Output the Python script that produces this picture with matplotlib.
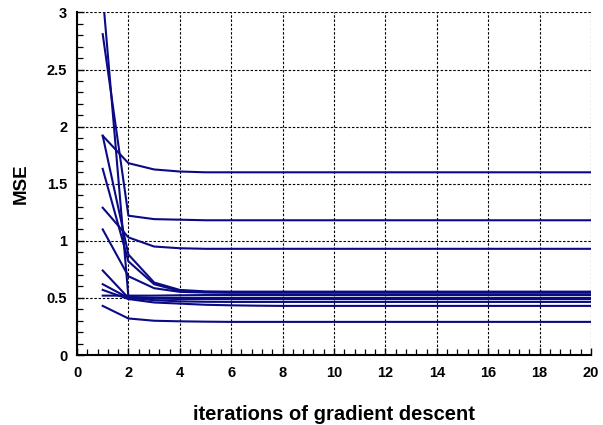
import matplotlib
matplotlib.use("Agg")
import matplotlib.pyplot as plt
from matplotlib.ticker import MultipleLocator, FuncFormatter

plt.rcParams['font.family'] = ['Liberation Sans', 'DejaVu Sans']

iterations = list(range(1, 21))

mse_runs = [
    [3.16, 0.51, 0.50, 0.50, 0.50, 0.50, 0.50, 0.50, 0.50, 0.50, 0.50, 0.50, 0.50, 0.50, 0.50, 0.50, 0.50, 0.50, 0.50, 0.50],
    [2.81, 1.22, 1.19, 1.185, 1.18, 1.18, 1.18, 1.18, 1.18, 1.18, 1.18, 1.18, 1.18, 1.18, 1.18, 1.18, 1.18, 1.18, 1.18, 1.18],
    [1.92, 1.68, 1.625, 1.607, 1.60, 1.60, 1.60, 1.60, 1.60, 1.60, 1.60, 1.60, 1.60, 1.60, 1.60, 1.60, 1.60, 1.60, 1.60, 1.60],
    [1.92, 0.88, 0.635, 0.57, 0.557, 0.555, 0.555, 0.555, 0.555, 0.555, 0.555, 0.555, 0.555, 0.555, 0.555, 0.555, 0.555, 0.555, 0.555, 0.555],
    [1.63, 0.82, 0.62, 0.56, 0.552, 0.55, 0.55, 0.55, 0.55, 0.55, 0.55, 0.55, 0.55, 0.55, 0.55, 0.55, 0.55, 0.55, 0.55, 0.55],
    [1.29, 1.03, 0.95, 0.935, 0.93, 0.93, 0.93, 0.93, 0.93, 0.93, 0.93, 0.93, 0.93, 0.93, 0.93, 0.93, 0.93, 0.93, 0.93, 0.93],
    [1.10, 0.69, 0.585, 0.553, 0.547, 0.545, 0.545, 0.545, 0.545, 0.545, 0.545, 0.545, 0.545, 0.545, 0.545, 0.545, 0.545, 0.545, 0.545, 0.545],
    [0.74, 0.50, 0.495, 0.49, 0.49, 0.49, 0.49, 0.49, 0.49, 0.49, 0.49, 0.49, 0.49, 0.49, 0.49, 0.49, 0.49, 0.49, 0.49, 0.49],
    [0.62, 0.50, 0.48, 0.47, 0.466, 0.465, 0.465, 0.465, 0.465, 0.465, 0.465, 0.465, 0.465, 0.465, 0.465, 0.465, 0.465, 0.465, 0.465, 0.465],
    [0.57, 0.49, 0.46, 0.45, 0.44, 0.435, 0.432, 0.43, 0.43, 0.43, 0.43, 0.43, 0.43, 0.43, 0.43, 0.43, 0.43, 0.43, 0.43, 0.43],
    [0.52, 0.52, 0.52, 0.523, 0.525, 0.525, 0.525, 0.525, 0.525, 0.525, 0.525, 0.525, 0.525, 0.525, 0.525, 0.525, 0.525, 0.525, 0.525, 0.525],
    [0.43, 0.32, 0.30, 0.295, 0.292, 0.29, 0.29, 0.29, 0.29, 0.29, 0.29, 0.29, 0.29, 0.29, 0.29, 0.29, 0.29, 0.29, 0.29, 0.29],
]

x_ticks = [0, 2, 4, 6, 8, 10, 12, 14, 16, 18, 20]
y_ticks = [0, 0.5, 1, 1.5, 2, 2.5, 3]

fig = plt.figure(figsize=(6.03, 4.25), dpi=100)
ax = fig.add_axes([0.1277, 0.1647, 0.8524, 0.806])

for run in mse_runs:
    ax.plot(iterations, run, color='#0a0a85', linewidth=1.5, solid_joinstyle='round')

ax.set_xlim(0, 20)
ax.set_ylim(0, 3)
ax.set_xticks(x_ticks)
ax.set_yticks(y_ticks)
ax.xaxis.set_minor_locator(MultipleLocator(0.4))
ax.yaxis.set_minor_locator(MultipleLocator(0.1))
ax.yaxis.set_major_formatter(FuncFormatter(lambda v, p: ('%g' % v)))

ax.grid(True, which='major', color='black', linestyle=(0, (2.2, 1.6)), linewidth=0.8)
ax.set_axisbelow(True)

for s in ['top', 'right']:
    ax.spines[s].set_visible(False)
for s in ['left', 'bottom']:
    ax.spines[s].set_linewidth(1.5)
    ax.spines[s].set_color('black')

ax.tick_params(which='major', direction='in', length=5, width=1, labelsize=10.5)
ax.tick_params(axis='x', which='major', pad=8)
ax.tick_params(axis='y', which='major', pad=7)
ax.tick_params(which='minor', direction='in', length=4, width=0.9)
for lbl in ax.get_xticklabels() + ax.get_yticklabels():
    lbl.set_fontweight('bold')

xl = ax.set_xlabel('iterations of gradient descent', fontsize=14.5, fontweight='bold')
xl.set_verticalalignment('bottom')
ax.xaxis.set_label_coords(0.5, -0.2005)
ax.set_ylabel('MSE', fontsize=13.5, fontweight='bold', labelpad=12)

fig.savefig('out.png', dpi=100)
